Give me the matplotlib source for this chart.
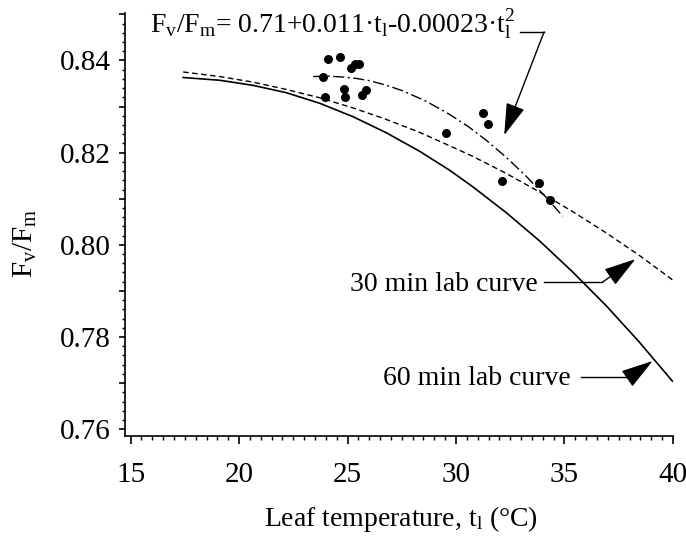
import matplotlib
matplotlib.use('Agg')
import matplotlib.pyplot as plt
from matplotlib.ticker import MultipleLocator, FuncFormatter

# measured field points (leaf temperature, Fv/Fm)
point_t = [24.10, 24.67, 25.14, 25.33, 25.51, 23.87, 23.95, 24.83, 24.88,
           25.68, 25.87, 29.55, 31.23, 31.46, 32.13, 33.81, 34.35]
point_f = [0.8404, 0.8407, 0.8383, 0.8393, 0.8393, 0.8364, 0.8321, 0.8337,
           0.8320, 0.8324, 0.8335, 0.8243, 0.8286, 0.8262, 0.8138, 0.8135,
           0.8097]

# laboratory curves
lab_t = [17.42, 19.11, 20.64, 22.18, 23.72, 25.25, 26.79, 28.32,
         29.70, 30.77, 32.31, 33.84, 35.38, 36.92, 38.45, 39.98]
lab30_f = [0.8375, 0.8365, 0.8353, 0.8337, 0.8319, 0.8297, 0.8272, 0.8244,
           0.8215, 0.8192, 0.8155, 0.8115, 0.8072, 0.8026, 0.7977, 0.7924]
lab60_f = [0.8363, 0.8357, 0.8346, 0.8330, 0.8307, 0.8278, 0.8243, 0.8203,
           0.8162, 0.8126, 0.8070, 0.8009, 0.7941, 0.7868, 0.7789, 0.7704]

# quadratic fit through the field points
fit_t = [23.41, 24.10, 24.79, 25.40, 26.02, 26.80, 27.55, 28.60, 29.70,
         30.55, 31.39, 32.31, 33.23, 34.15, 34.92]
fit_f = [0.8365, 0.8366, 0.8364, 0.8361, 0.8356, 0.8346, 0.8334, 0.8312,
         0.8283, 0.8257, 0.8227, 0.8190, 0.8149, 0.8103, 0.8062]

plt.rcParams['font.family'] = ['Liberation Serif', 'DejaVu Serif']
plt.rcParams['mathtext.fontset'] = 'custom'
plt.rcParams['mathtext.rm'] = 'Liberation Serif'
plt.rcParams['mathtext.it'] = 'Liberation Serif:italic'

fig = plt.figure(figsize=(6.86, 5.38), dpi=100)
ax = fig.add_axes([0.1822, 0.1902, 0.7988, 0.7857])

ax.plot(lab_t, lab60_f, color='black', lw=1.2, ls='-')
ax.plot(lab_t, lab30_f, color='black', lw=1.0, ls=(0, (4, 2.5)))
ax.plot(fit_t, fit_f, color='black', lw=1.0, ls=(0, (8, 2.5, 1.5, 2.5)))
ax.scatter(point_t, point_f, s=42, color='black', zorder=3, linewidths=0)

ax.set_xlim(14.74, 40.0)
ax.set_ylim(0.7586, 0.8503)

ax.spines['top'].set_visible(False)
ax.spines['right'].set_visible(False)
ax.spines['left'].set_linewidth(1.2)
ax.spines['bottom'].set_linewidth(1.2)

ax.xaxis.set_major_locator(MultipleLocator(5))
ax.xaxis.set_minor_locator(MultipleLocator(0.5))
ax.yaxis.set_major_locator(MultipleLocator(0.01))
ax.yaxis.set_minor_locator(MultipleLocator(0.002))
ax.yaxis.set_major_formatter(FuncFormatter(
    lambda v, p: '%.2f' % v if round(v * 100) % 2 == 0 else ''))

ax.tick_params(axis='x', which='major', length=6, width=1.2, pad=13,
               labelsize=21, direction='out')
ax.tick_params(axis='x', which='minor', length=3, width=1.0, direction='out')
ax.tick_params(axis='y', which='major', length=4.5, width=1.2, pad=6,
               labelsize=21, direction='out')
ax.tick_params(axis='y', which='minor', length=2.5, width=1.0, direction='out')

fig.text(401 / 686, 1 - 519 / 538, 'Leaf temperature, t$_{\\rm l}$ (°C)',
         ha='center', va='center', fontsize=20)
fig.text(25 / 686, 1 - 243 / 538, 'F$_{\\rm v}$/F$_{\\rm m}$',
         ha='center', va='center', rotation=90, fontsize=21)

arrow = dict(arrowstyle='-|>,head_length=2.0,head_width=0.6', color='black',
             lw=1.0, shrinkA=0, shrinkB=0, mutation_scale=10)

# equation label with its leader
ax.text(15.89, 0.8459,
        'F$_{\\rm v}$/F$_{\\rm m}$= 0.71+0.011·t$_{\\rm l}$-0.00023·t$_{\\rm l}^{2}$',
        ha='left', va='baseline', fontsize=20, clip_on=False)
ax.plot([32.97, 34.06], [0.8462, 0.8462], color='black', lw=1.0, clip_on=False)
ax.annotate('', xy=(32.22, 0.8238), xytext=(34.06, 0.8462),
            arrowprops=arrow, annotation_clip=False)

# lab curve labels
ax.text(25.10, 0.7900, '30 min lab curve', ha='left', va='baseline',
        fontsize=20)
ax.plot([34.07, 36.75], [0.7919, 0.7919], color='black', lw=1.0)
ax.annotate('', xy=(38.27, 0.7969), xytext=(36.75, 0.7919), arrowprops=arrow)

ax.text(26.62, 0.7696, '60 min lab curve', ha='left', va='baseline',
        fontsize=20)
ax.plot([35.76, 37.99], [0.7713, 0.7713], color='black', lw=1.0)
ax.annotate('', xy=(39.06, 0.7748), xytext=(37.99, 0.7713), arrowprops=arrow)

plt.savefig('out.png', dpi=100)
